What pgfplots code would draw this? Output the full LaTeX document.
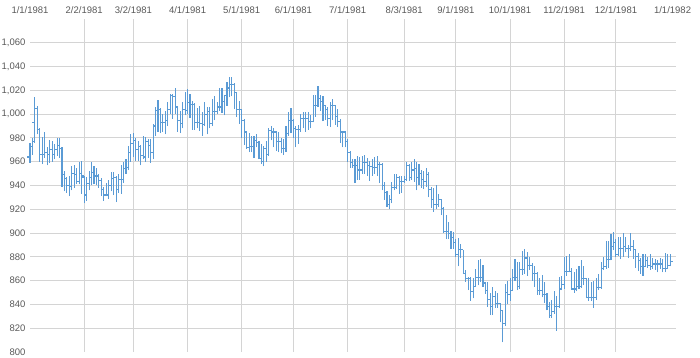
\documentclass[border=0pt]{standalone}
\usepackage{fontspec}
\setmainfont{Liberation Sans}
\usepackage{pgfplots}
\usepackage{pgfplotstable}
\pgfplotsset{compat=1.18}
\definecolor{ohlc}{RGB}{91,155,213}
\definecolor{gridc}{RGB}{212,212,212}
\definecolor{labc}{RGB}{89,89,89}
\pgfdeclareplotmark{otick}{\pgfpathmoveto{\pgfqpoint{-\pgfplotmarksize}{0pt}}\pgfpathlineto{\pgfqpoint{0pt}{0pt}}\pgfusepathqstroke}
\pgfdeclareplotmark{ctick}{\pgfpathmoveto{\pgfqpoint{0pt}{0pt}}\pgfpathlineto{\pgfqpoint{\pgfplotmarksize}{0pt}}\pgfusepathqstroke}
\pgfplotstableread{
x o h l c
0 964 976 959 973
1 973 980 966 977
2 993 1014 976 1005
3 1005 1007 983 987
4 987 988 960 966
5 966 981 958 966
6 966 985 963 968
7 968 972 957 966
8 966 978 959 970
9 970 977 960 966
10 966 975 962 970
11 970 980 965 974
12 974 980 963 971
13 971 972 939 949
14 949 952 935 946
15 946 947 934 940
16 940 948 931 939
17 939 956 936 950
18 950 957 938 949
19 949 955 941 943
20 943 960 941 950
21 950 961 933 948
22 947 948 925 932
23 932 947 927 942
24 942 952 936 947
25 947 960 940 951
26 951 956 941 948
27 948 955 940 948
28 948 950 938 944
29 944 946 931 937
30 937 939 927 932
31 932 942 931 932
32 932 945 929 940
33 940 951 935 946
34 946 951 932 947
35 947 948 926 937
36 937 950 934 945
37 945 957 933 945
38 945 960 942 954
39 954 962 950 955
40 955 973 953 968
41 968 983 960 975
42 975 984 964 978
43 978 980 961 970
44 970 977 961 973
45 973 974 957 965
46 965 982 962 964
47 964 981 960 977
48 977 979 963 974
49 974 979 959 968
50 968 992 962 990
51 990 1006 982 1003
52 1003 1012 985 1004
53 1004 1005 984 993
54 993 1000 985 993
55 993 1003 983 995
56 995 1010 990 1004
57 1004 1017 1000 1016
58 1016 1017 996 1015
59 1015 1022 1000 1006
60 1006 1006 985 995
61 995 1003 984 992
62 992 1010 988 1004
63 1004 1019 999 1003
64 1003 1021 1000 1010
65 1010 1017 997 1008
66 1008 1011 987 1008
67 1008 1009 987 993
68 993 1005 988 993
69 993 1007 986 992
70 992 1002 982 991
71 991 1010 990 1000
72 1000 1006 983 1002
73 1002 1006 988 992
74 992 1013 990 1002
75 1002 1015 995 1002
76 1002 1010 1000 1006
77 1006 1022 1003 1006
78 1006 1022 1001 1011
79 1011 1016 999 1016
80 1016 1027 1007 1022
81 1022 1031 1014 1025
82 1025 1031 1015 1025
83 1025 1026 1004 1018
84 1018 1018 998 1004
85 1004 1011 992 1004
86 1004 1004 980 995
87 995 996 974 985
88 985 986 971 972
89 972 984 968 973
90 973 982 968 973
91 973 982 963 978
92 978 983 972 976
93 976 977 962 963
94 963 975 958 960
95 960 973 956 971
96 971 977 960 966
97 966 988 965 986
98 986 990 978 985
99 985 988 972 985
100 985 986 969 977
101 977 985 968 977
102 977 980 967 971
103 971 979 966 971
104 971 990 968 984
105 984 1002 982 995
106 995 1005 984 995
107 995 996 980 988
108 988 990 972 987
109 987 991 975 987
110 987 1000 985 996
111 996 1002 988 996
112 996 1002 985 996
113 996 1002 987 994
114 994 999 988 994
115 994 1016 993 1007
116 1007 1016 998 1007
117 1007 1024 1006 1013
118 1013 1016 1003 1011
119 1011 1015 994 1007
120 1007 1008 995 1004
121 1004 1006 990 996
122 996 1010 989 1007
123 1007 1013 995 1007
124 1007 1008 991 998
125 998 1004 989 994
126 994 996 976 985
127 985 986 972 985
128 985 986 972 977
129 977 979 960 968
130 968 969 955 959
131 959 962 955 957
132 957 962 942 957
133 957 965 945 953
134 953 964 945 953
135 953 965 950 959
136 959 966 950 959
137 959 963 948 957
138 957 961 944 956
139 956 962 948 955
140 955 964 950 955
141 955 965 948 958
142 958 960 942 958
143 958 959 936 940
144 940 943 928 934
145 934 935 922 924
146 924 932 920 928
147 928 943 925 938
148 938 950 936 938
149 938 950 937 947
150 947 948 933 943
151 943 948 934 943
152 943 948 942 945
153 945 960 944 957
154 957 958 944 947
155 947 960 945 953
156 953 962 943 954
157 954 960 936 947
158 947 958 940 950
159 950 953 938 945
160 945 952 937 943
161 943 955 939 949
162 949 951 930 937
163 937 939 921 928
164 928 938 918 924
165 924 940 920 924
166 924 933 922 928
167 928 929 915 921
168 921 922 900 901
169 901 915 895 901
170 901 909 895 900
171 900 902 887 896
172 896 901 887 892
173 892 895 880 882
174 882 896 872 886
175 886 891 879 886
176 886 886 866 866
177 866 869 859 862
178 862 863 852 862
179 862 863 843 851
180 851 862 845 855
181 855 870 855 863
182 863 877 856 863
183 863 878 859 863
184 863 873 855 858
185 858 859 849 852
186 852 859 838 844
187 844 850 831 838
188 838 855 831 847
189 847 851 837 841
190 841 850 837 841
191 841 841 825 835
192 835 835 808 824
193 824 857 822 850
194 850 860 840 848
195 848 862 843 852
196 852 870 852 863
197 863 878 860 863
198 863 876 852 855
199 855 876 853 869
200 869 885 865 869
201 869 887 866 879
202 879 884 864 873
203 873 880 869 873
204 873 875 860 866
205 866 872 855 866
206 866 867 848 852
207 852 862 848 852
208 852 865 846 848
209 848 859 841 848
210 848 850 835 838
211 838 842 829 831
212 831 844 829 834
213 834 851 832 838
214 838 847 818 838
215 838 863 837 853
216 853 864 852 857
217 857 880 853 868
218 868 881 864 868
219 868 882 867 868
220 868 871 853 853
221 853 867 850 853
222 853 870 851 855
223 855 872 853 855
224 855 877 854 862
225 862 872 856 862
226 862 862 845 846
227 846 862 843 846
228 846 859 843 846
229 846 860 837 846
230 846 862 844 854
231 854 866 852 854
232 854 876 853 870
233 870 880 869 872
234 872 893 870 878
235 878 893 871 878
236 878 899 877 889
237 889 901 886 892
238 892 895 880 882
239 882 897 881 887
240 887 897 878 887
241 887 900 880 889
242 889 897 884 887
243 887 890 879 887
244 887 900 885 889
245 889 894 878 886
246 886 887 871 880
247 880 883 868 877
248 877 879 866 872
249 872 882 864 872
250 872 882 872 877
251 877 880 871 873
252 873 882 869 872
253 872 879 870 874
254 874 878 869 874
255 874 877 867 874
256 874 879 870 874
257 874 878 867 870
258 870 883 867 870
259 870 882 870 873
260 873 882 872 876
}\data
\begin{document}
\begin{tikzpicture}
\useasboundingbox (0,0) rectangle (700pt,358pt);
\begin{axis}[
  at={(30pt,6pt)}, anchor=south west,
  scale only axis, width=646pt, height=333pt,
  xmin=0, xmax=262.4, ymin=800, ymax=1080,
  clip=false,
  axis line style={draw=none},
  major tick length=0pt,
  xticklabel pos=upper,
  xtick={22,42,64,86,107,129,152,173,195,217,238},
  xticklabels={2/2/1981,3/2/1981,4/1/1981,5/1/1981,6/1/1981,7/1/1981,8/3/1981,9/1/1981,10/1/1981,11/2/1981,12/1/1981},
  extra x ticks={0,261},
  extra x tick labels={1/1/1981,1/1/1982},
  extra x tick style={grid=none, xticklabel pos=upper},
  ytick={820,840,...,1060},
  extra y ticks={800},
  extra y tick style={grid=none},
  xmajorgrids, ymajorgrids,
  grid style={draw=gridc, line width=1pt},
  /pgf/number format/assume math mode=true,
  /pgf/number format/1000 sep={,},
  tick label style={font=\fontsize{9.5}{11}\selectfont, text=labc},
  xticklabel style={yshift=1.5pt},
  yticklabel style={xshift=-1pt},
]
\addplot[draw=none, mark=none, forget plot,
  error bars/.cd, y dir=plus, y explicit, error mark=none,
  error bar style={draw=ohlc, line width=1.1pt}]
  table[x=x, y=l, y error plus expr=\thisrow{h}-\thisrow{l}] {\data};
\addplot[only marks, mark=otick, mark size=2.6pt, mark options={draw=ohlc, line width=1.1pt}]
  table[x=x, y=o] {\data};
\addplot[only marks, mark=ctick, mark size=2.6pt, mark options={draw=ohlc, line width=1.1pt}]
  table[x=x, y=c] {\data};
\end{axis}
\end{tikzpicture}
\end{document}
